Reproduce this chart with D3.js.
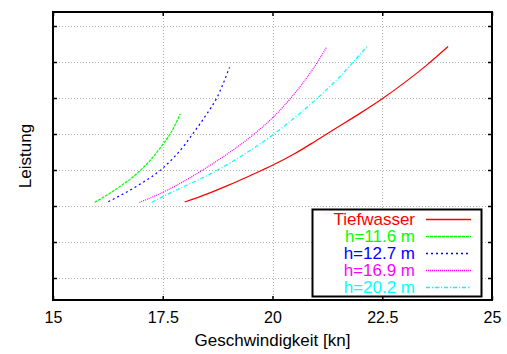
<!DOCTYPE html>
<html>
<head>
<meta charset="utf-8">
<script src="https://cdn.jsdelivr.net/npm/d3@7"></script>
<style>
body { margin: 0; background: #fff; }
text { font-family: "Liberation Sans", Arial, sans-serif; }
</style>
</head>
<body>
<svg id="chart" width="507" height="354"></svg>
<script>
// speeds in kn, power in arbitrary units (y ticks have no labels)
var tiefX = [18, 18.5, 19, 19.5, 20, 20.5, 21, 21.5, 22, 22.5, 23, 23.5, 24];
var tiefY = [3.11, 3.33, 3.58, 3.85, 4.13, 4.45, 4.82, 5.2, 5.58, 5.98, 6.42, 6.9, 7.43];

var h116X = [15.95, 16.25, 16.5, 16.75, 17, 17.25, 17.5, 17.67, 17.9];
var h116Y = [3.1, 3.32, 3.52, 3.74, 4.0, 4.32, 4.71, 5.0, 5.56];

var h127X = [16.26, 16.5, 17, 17.5, 18, 18.18, 18.5, 18.73, 19.02];
var h127Y = [3.12, 3.27, 3.62, 4.05, 4.7, 5.0, 5.55, 6.0, 6.85];

var h169X = [16.97, 17.5, 18, 18.5, 19, 19.5, 20, 20.5, 21, 21.23];
var h169Y = [3.1, 3.38, 3.7, 4.07, 4.47, 4.92, 5.45, 6.12, 6.95, 7.41];

var h202X = [17.25, 17.5, 18, 18.5, 19, 19.5, 20, 20.5, 21, 21.5, 21.84, 22.15];
var h202Y = [3.1, 3.26, 3.55, 3.84, 4.17, 4.55, 4.97, 5.45, 5.97, 6.55, 7.0, 7.43];

var xTicks = [15, 17.5, 20, 22.5, 25];
var yTicks = [1, 2, 3, 4, 5, 6, 7, 8];

var seriesNames = ["Tiefwasser", "h=11.6 m", "h=12.7 m", "h=16.9 m", "h=20.2 m"];
var seriesColors = ["#ff0000", "#00ff00", "#0000ff", "#ff00ff", "#00ffff"];
var seriesDash = ["none", "3,1", "2,3", "1,1", "4,2,1,2"];

var series = [
	{ x: tiefX, y: tiefY },
	{ x: h116X, y: h116Y },
	{ x: h127X, y: h127Y },
	{ x: h169X, y: h169Y },
	{ x: h202X, y: h202Y }
];

var svg = d3.select("#chart"),
	pLeft = 53, pRight = 492, pTop = 12, pBottom = 300;

var x = d3.scaleLinear().domain([15, 25]).range([pLeft, pRight]);
var y = d3.scaleLinear().domain([1 - 22 / 36, 8 + 14 / 36]).range([pBottom, pTop]);

// grid
var grid = svg.append("g").attr("class", "grid")
	.attr("stroke", "#b0b0b0")
	.attr("stroke-width", 1)
	.attr("stroke-dasharray", "1,2");

grid.selectAll("line.gy")
	.data(yTicks)
	.enter().append("line")
	.attr("x1", pLeft).attr("x2", pRight)
	.attr("y1", function(d) { return Math.round(y(d)) + 0.5; })
	.attr("y2", function(d) { return Math.round(y(d)) + 0.5; });

grid.selectAll("line.gx")
	.data(xTicks.slice(1, -1))
	.enter().append("line")
	.attr("y1", pTop).attr("y2", pBottom)
	.attr("x1", function(d) { return Math.round(x(d)) + 0.5; })
	.attr("x2", function(d) { return Math.round(x(d)) + 0.5; });

// curves
var curve = d3.line()
	.x(function(d) { return x(d[0]); })
	.y(function(d) { return y(d[1]); })
	.curve(d3.curveMonotoneX);

series.forEach(function(s, i) {
	svg.append("path")
		.datum(d3.zip(s.x, s.y))
		.attr("fill", "none")
		.attr("stroke", seriesColors[i])
		.attr("stroke-width", 1.2)
		.attr("stroke-dasharray", seriesDash[i])
		.attr("d", curve);
});

// axes with inward ticks
var tickLen = 4;
svg.append("g")
	.attr("transform", "translate(0," + pBottom + ")")
	.call(d3.axisBottom(x).tickValues(xTicks).tickSizeInner(-tickLen).tickSizeOuter(0).tickPadding(12)
		.tickFormat(function(d) { return d; }))
	.call(function(g) {
		g.select(".domain").remove();
		g.selectAll("text").attr("font-size", 16).attr("fill", "#000")
			.style("font-family", "'Liberation Sans', Arial, sans-serif");
	});

svg.append("g")
	.attr("transform", "translate(0," + pTop + ")")
	.call(d3.axisTop(x).tickValues(xTicks).tickSizeInner(-tickLen).tickSizeOuter(0).tickFormat(""))
	.call(function(g) { g.select(".domain").remove(); });

svg.append("g")
	.attr("transform", "translate(" + pLeft + ",0)")
	.call(d3.axisLeft(y).tickValues(yTicks).tickSizeInner(-tickLen).tickSizeOuter(0).tickFormat(""))
	.call(function(g) { g.select(".domain").remove(); });

svg.append("g")
	.attr("transform", "translate(" + pRight + ",0)")
	.call(d3.axisRight(y).tickValues(yTicks).tickSizeInner(-tickLen).tickSizeOuter(0).tickFormat(""))
	.call(function(g) { g.select(".domain").remove(); });

svg.selectAll(".tick line").attr("stroke", "#000").attr("stroke-width", 1.5);

// frame
svg.append("rect")
	.attr("x", pLeft).attr("y", pTop)
	.attr("width", pRight - pLeft).attr("height", pBottom - pTop)
	.attr("fill", "none")
	.attr("stroke", "#000")
	.attr("stroke-width", 2);

// axis titles
svg.append("text")
	.attr("x", (pLeft + pRight) / 2)
	.attr("y", 346)
	.attr("text-anchor", "middle")
	.attr("font-size", 17)
	.text("Geschwindigkeit [kn]");

svg.append("text")
	.attr("transform", "translate(31,156) rotate(-90)")
	.attr("text-anchor", "middle")
	.attr("font-size", 17)
	.text("Leistung");

// legend
var legendItems = seriesNames.map(function(n, i) {
	return { name: n, color: seriesColors[i], dash: seriesDash[i], row: i };
});

var legend = svg.append("g");
legend.append("rect")
	.attr("x", 312.5).attr("y", 209.5)
	.attr("width", 169).attr("height", 87)
	.attr("fill", "#fff")
	.attr("stroke", "#000")
	.attr("stroke-width", 2);

var rows = legend.selectAll("g.row")
	.data(legendItems)
	.enter().append("g")
	.attr("class", "row")
	.attr("transform", function(d) { return "translate(0," + (219 + d.row * 17) + ")"; });

rows.append("text")
	.attr("x", 415)
	.attr("dy", "0.36em")
	.attr("text-anchor", "end")
	.attr("font-size", 17)
	.attr("fill", function(d) { return d.color; })
	.text(function(d) { return d.name; });

rows.append("path")
	.attr("d", "M426,0.5H471")
	.attr("fill", "none")
	.style("stroke", function(d) { return d.color; })
	.style("stroke-width", "1.4px")
	.style("stroke-dasharray", function(d) { return d.dash; });
</script>
</body>
</html>
